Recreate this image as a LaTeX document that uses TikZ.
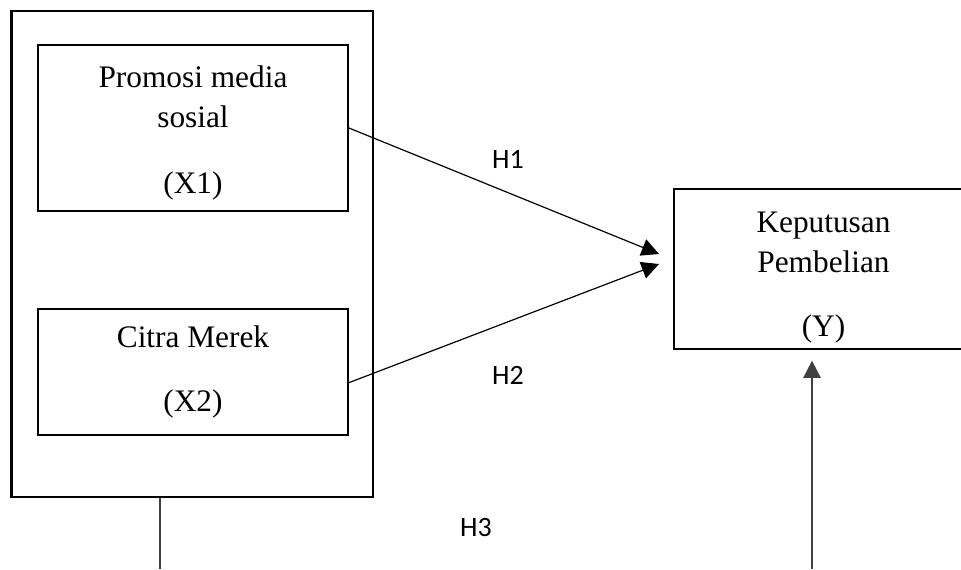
\documentclass[tikz,border=0pt]{standalone}
\usepackage{fontspec}
\setmainfont{Liberation Serif}
\newfontfamily\labelfont{Carlito}
\usetikzlibrary{arrows.meta}

\tikzset{
  varbox/.style={draw, line width=1.4pt, align=center, inner sep=0pt,
    font=\fontsize{23.5}{30}\selectfont},
  hyplabel/.style={font=\labelfont\fontsize{21}{24}\selectfont},
  link/.style={line width=0.9pt, -{Triangle[length=13pt,width=13pt]}},
  stem/.style={line width=1.2pt, draw=black!75}
}

\begin{document}
\begin{tikzpicture}[x=0.75pt,y=-0.75pt]
\useasboundingbox (0,0) rectangle (961,569);

\node[draw, line width=1.7pt, minimum width=361.5*0.75pt, minimum height=486*0.75pt] (frame) at (192.25,254) {};

\node[varbox, minimum width=310*0.75pt, minimum height=166*0.75pt] (x1) at (193,128)
  {\rule{0pt}{24pt}Promosi media\\sosial\\[19.5pt](X1)};
\node[varbox, minimum width=310*0.75pt, minimum height=126*0.75pt] (x2) at (193,372)
  {Citra Merek\\[18pt](X2)};
\node[varbox, minimum width=299*0.75pt, minimum height=160*0.75pt] (y) at (823.5,269)
  {\rule{0pt}{28pt}Keputusan\\Pembelian\\[18pt](Y)};

\coordinate (t1) at (659,254);
\coordinate (t2) at (659,264);
\coordinate (s2) at (348,383);
\coordinate (b1) at (160,569);
\coordinate (b2) at (812,569);

\draw[link] (x1.east) -- (t1);
\draw[link] (s2) -- (t2);
\draw[stem] (b1 |- frame.south) -- (b1);
\draw[stem, -{Triangle[length=13pt,width=13pt]}, shorten >=8pt] (b2) -- (b2 |- y.south);

\node[hyplabel] (h1) at (508,159) {H1};
\node[hyplabel] (h2) at (508,375) {H2};
\node[hyplabel] (h3) at (476,528) {H3};
\end{tikzpicture}
\end{document}
